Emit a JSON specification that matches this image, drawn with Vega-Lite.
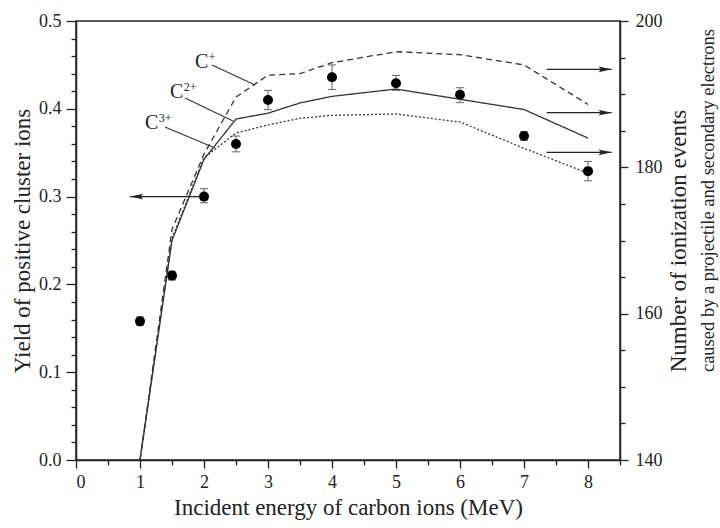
{
  "$schema": "https://vega.github.io/schema/vega-lite/v6.json",
  "width": 544,
  "height": 439,
  "autosize": "none",
  "padding": {"left": 76, "top": 21, "right": 100, "bottom": 68},
  "background": "white",
  "datasets": {
    "yield": [
      {"x": 1, "y": 0.158, "lo": 0.153, "hi": 0.163},
      {"x": 1.5, "y": 0.21, "lo": 0.205, "hi": 0.215},
      {"x": 2, "y": 0.30, "lo": 0.293, "hi": 0.309},
      {"x": 2.5, "y": 0.36, "lo": 0.351, "hi": 0.369},
      {"x": 3, "y": 0.41, "lo": 0.399, "hi": 0.421},
      {"x": 4, "y": 0.436, "lo": 0.422, "hi": 0.450},
      {"x": 5, "y": 0.429, "lo": 0.421, "hi": 0.438},
      {"x": 6, "y": 0.416, "lo": 0.407, "hi": 0.424},
      {"x": 7, "y": 0.369, "lo": 0.364, "hi": 0.374},
      {"x": 8, "y": 0.329, "lo": 0.318, "hi": 0.340}
    ],
    "events": [
      {"x": 1, "y": 140, "ion": "C+"},
      {"x": 1.5, "y": 171.5, "ion": "C+"},
      {"x": 2, "y": 181.8, "ion": "C+"},
      {"x": 2.5, "y": 189.6, "ion": "C+"},
      {"x": 3, "y": 192.6, "ion": "C+"},
      {"x": 3.5, "y": 192.8, "ion": "C+"},
      {"x": 4, "y": 194.3, "ion": "C+"},
      {"x": 5, "y": 195.8, "ion": "C+"},
      {"x": 6, "y": 195.4, "ion": "C+"},
      {"x": 7, "y": 194.0, "ion": "C+"},
      {"x": 8, "y": 188.6, "ion": "C+"},
      {"x": 1, "y": 140, "ion": "C2+"},
      {"x": 1.5, "y": 170.0, "ion": "C2+"},
      {"x": 2, "y": 181.1, "ion": "C2+"},
      {"x": 2.5, "y": 186.6, "ion": "C2+"},
      {"x": 3, "y": 187.4, "ion": "C2+"},
      {"x": 3.5, "y": 188.8, "ion": "C2+"},
      {"x": 4, "y": 189.7, "ion": "C2+"},
      {"x": 5, "y": 190.7, "ion": "C2+"},
      {"x": 6, "y": 189.3, "ion": "C2+"},
      {"x": 7, "y": 187.9, "ion": "C2+"},
      {"x": 8, "y": 184.0, "ion": "C2+"},
      {"x": 1, "y": 140, "ion": "C3+"},
      {"x": 1.5, "y": 170.3, "ion": "C3+"},
      {"x": 2, "y": 181.3, "ion": "C3+"},
      {"x": 2.5, "y": 184.7, "ion": "C3+"},
      {"x": 3, "y": 185.8, "ion": "C3+"},
      {"x": 3.5, "y": 186.7, "ion": "C3+"},
      {"x": 4, "y": 187.1, "ion": "C3+"},
      {"x": 5, "y": 187.3, "ion": "C3+"},
      {"x": 6, "y": 186.2, "ion": "C3+"},
      {"x": 7, "y": 182.6, "ion": "C3+"},
      {"x": 8, "y": 179.2, "ion": "C3+"}
    ],
    "labels": [
      {"x": 1.963, "y": 194.44, "base": "C", "sup": "+"},
      {"x": 1.573, "y": 190.34, "base": "C", "sup": "2+"},
      {"x": 1.183, "y": 186.1, "base": "C", "sup": "3+"}
    ],
    "leaders": [
      {"x": 2.125, "x2": 2.797, "y": 193.99, "y2": 191.25},
      {"x": 1.703, "x2": 2.453, "y": 189.48, "y2": 186.33},
      {"x": 1.39, "x2": 2.17, "y": 185.51, "y2": 182.64}
    ],
    "rightArrows": [
      {"x": 7.354, "x2": 8.37, "y": 193.4},
      {"x": 7.354, "x2": 8.37, "y": 187.47},
      {"x": 7.354, "x2": 8.37, "y": 182.05}
    ],
    "leftArrow": [
      {"x": 0.844, "x2": 1.96, "y": 0.30}
    ]
  },
  "layer": [
    {
      "data": {"name": "yield"},
      "mark": {"type": "rule", "color": "#666", "strokeWidth": 1},
      "encoding": {
        "x": {"field": "x", "type": "quantitative", "scale": {"domain": [0, 8.5], "nice": false, "zero": false},
          "axis": {"orient": "bottom", "values": [0.5, 1.5, 2.5, 3.5, 4.5, 5.5, 6.5, 7.5, 8.5], "labels": false, "tickSize": 5, "domain": false, "title": null}},
        "y": {"field": "lo", "type": "quantitative", "scale": {"domain": [0, 0.5], "nice": false},
          "axis": {"orient": "left", "values": [0.02, 0.04, 0.06, 0.08, 0.12, 0.14, 0.16, 0.18, 0.22, 0.24, 0.26, 0.28, 0.32, 0.34, 0.36, 0.38, 0.42, 0.44, 0.46, 0.48], "labels": false, "tickSize": 5, "domain": false, "title": null}},
        "y2": {"field": "hi"}
      }
    },
    {
      "data": {"name": "yield"},
      "mark": {"type": "point", "shape": "M-1,0L1,0", "size": 64, "filled": false, "stroke": "#666", "strokeWidth": 1, "opacity": 1},
      "encoding": {
        "x": {"field": "x", "type": "quantitative", "axis": null},
        "y": {"field": "lo", "type": "quantitative", "scale": {"domain": [0, 0.5], "nice": false}, "axis": null}
      }
    },
    {
      "data": {"name": "yield"},
      "mark": {"type": "point", "shape": "M-1,0L1,0", "size": 64, "filled": false, "stroke": "#666", "strokeWidth": 1, "opacity": 1},
      "encoding": {
        "x": {"field": "x", "type": "quantitative", "axis": null},
        "y": {"field": "hi", "type": "quantitative", "scale": {"domain": [0, 0.5], "nice": false}, "axis": null}
      }
    },
    {
      "data": {"name": "leftArrow"},
      "mark": {"type": "rule", "color": "#222", "strokeWidth": 1.2},
      "encoding": {
        "x": {"field": "x", "type": "quantitative", "axis": null},
        "x2": {"field": "x2"},
        "y": {"field": "y", "type": "quantitative", "scale": {"domain": [0, 0.5], "nice": false}, "axis": null}
      }
    },
    {
      "data": {"name": "leftArrow"},
      "mark": {"type": "point", "shape": "M0,0L1,-0.22L0.8,0L1,0.22Z", "size": 700, "filled": true, "color": "#222", "opacity": 1},
      "encoding": {
        "x": {"field": "x", "type": "quantitative", "axis": null},
        "y": {"field": "y", "type": "quantitative", "scale": {"domain": [0, 0.5], "nice": false}, "axis": null}
      }
    },
    {
      "data": {"name": "yield"},
      "mark": {"type": "circle", "size": 100, "color": "black", "opacity": 1},
      "encoding": {
        "x": {"field": "x", "type": "quantitative",
          "axis": {"orient": "bottom", "title": "Incident energy of carbon ions (MeV)", "titleFontSize": 23, "values": [0, 1, 2, 3, 4, 5, 6, 7, 8], "format": "d", "tickSize": 8, "labelPadding": 5, "titlePadding": 5}},
        "y": {"field": "y", "type": "quantitative", "scale": {"domain": [0, 0.5], "nice": false},
          "axis": {"orient": "left", "title": "Yield of positive cluster ions", "titleFontSize": 23, "values": [0, 0.1, 0.2, 0.3, 0.4, 0.5], "format": ".1f", "tickSize": 10, "labelPadding": 5, "titlePadding": 4}}
      }
    },
    {
      "data": {"name": "events"},
      "mark": {"type": "line", "strokeWidth": 1.3, "color": "#333"},
      "encoding": {
        "x": {"field": "x", "type": "quantitative", "axis": null},
        "y": {"field": "y", "type": "quantitative", "scale": {"domain": [140, 200], "nice": false, "zero": false},
          "axis": {"orient": "right", "title": "Number of ionization events", "titleFontSize": 23, "titleAngle": 270, "titleBaseline": "top", "titleAlign": "center", "titleX": 47, "titleY": 219.5, "values": [140, 160, 180, 200], "tickSize": 8, "labelPadding": 7}},
        "strokeDash": {"field": "ion", "type": "nominal", "scale": {"domain": ["C+", "C2+", "C3+"], "range": [[6, 4], [1, 0], [2, 2]]}, "legend": null}
      }
    },
    {
      "data": {"name": "leaders"},
      "mark": {"type": "rule", "color": "#333", "strokeWidth": 1.1},
      "encoding": {
        "x": {"field": "x", "type": "quantitative", "axis": null},
        "x2": {"field": "x2"},
        "y": {"field": "y", "type": "quantitative", "scale": {"domain": [140, 200], "nice": false, "zero": false},
          "axis": {"orient": "right", "values": [145, 150, 155, 165, 170, 175, 185, 190, 195], "labels": false, "tickSize": 5, "domain": false, "title": "caused by a projectile and secondary electrons", "titleFontSize": 18.5, "titleAngle": 270, "titleBaseline": "top", "titleAlign": "center", "titleX": 78, "titleY": 179}},
        "y2": {"field": "y2"}
      }
    },
    {
      "data": {"name": "labels"},
      "mark": {"type": "text", "align": "center", "baseline": "middle", "font": "Liberation Serif", "fontSize": 20, "color": "#222"},
      "encoding": {
        "x": {"field": "x", "type": "quantitative", "axis": null},
        "y": {"field": "y", "type": "quantitative", "scale": {"domain": [140, 200], "nice": false, "zero": false}, "axis": null},
        "text": {"field": "base"}
      }
    },
    {
      "data": {"name": "labels"},
      "mark": {"type": "text", "align": "left", "baseline": "middle", "dx": 7, "dy": -5, "font": "Liberation Serif", "fontSize": 12, "color": "#222"},
      "encoding": {
        "x": {"field": "x", "type": "quantitative", "axis": null},
        "y": {"field": "y", "type": "quantitative", "scale": {"domain": [140, 200], "nice": false, "zero": false}, "axis": null},
        "text": {"field": "sup"}
      }
    },
    {
      "data": {"name": "rightArrows"},
      "mark": {"type": "rule", "color": "#222", "strokeWidth": 1.2},
      "encoding": {
        "x": {"field": "x", "type": "quantitative", "axis": null},
        "x2": {"field": "x2"},
        "y": {"field": "y", "type": "quantitative", "scale": {"domain": [140, 200], "nice": false, "zero": false}, "axis": null}
      }
    },
    {
      "data": {"name": "rightArrows"},
      "mark": {"type": "point", "shape": "M0,0L-1,-0.22L-0.8,0L-1,0.22Z", "size": 700, "filled": true, "color": "#222", "opacity": 1},
      "encoding": {
        "x": {"field": "x2", "type": "quantitative", "axis": null},
        "y": {"field": "y", "type": "quantitative", "scale": {"domain": [140, 200], "nice": false, "zero": false}, "axis": null}
      }
    }
  ],
  "resolve": {"scale": {"y": "independent"}, "axis": {"x": "independent"}},
  "config": {
    "view": {"stroke": "#222", "strokeWidth": 1.5},
    "axis": {
      "grid": false,
      "domainColor": "#222",
      "domainWidth": 1.5,
      "tickColor": "#222",
      "tickWidth": 1.3,
      "labelFont": "Liberation Serif",
      "labelFontSize": 18,
      "labelColor": "#222",
      "titleFont": "Liberation Serif",
      "titleFontSize": 22,
      "titleFontWeight": "normal",
      "titleColor": "#222"
    }
  }
}
